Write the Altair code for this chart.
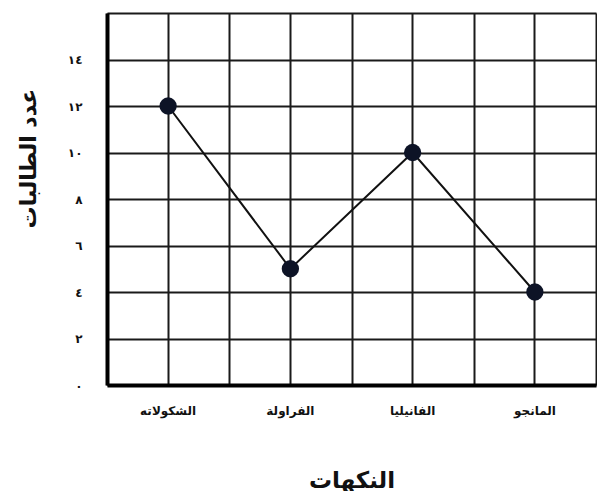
import altair as alt
import pandas as pd

flavors = ["الشكولاته", "الفراولة", "الفانيليا", "المانجو"]
counts = [12, 5, 10, 4]
y_ticks = [0, 2, 4, 6, 8, 10, 12, 14, 16]
y_tick_labels = ["٠", "٢", "٤", "٦", "٨", "١٠", "١٢", "١٤", ""]
x_title = "النكهات"
y_title = "عدد الطالبات"

df = pd.DataFrame({"flavor": flavors, "count": counts})

FONT = "DejaVu Sans"
label_expr = (
    "[" + ",".join(f"'{s}'" for s in y_tick_labels) + "]"
    + "[indexof([" + ",".join(str(v) for v in y_ticks) + "], datum.value)]"
)

x_scale = alt.Scale(type="band", paddingInner=0, paddingOuter=0)
y_scale = alt.Scale(domain=[0, 16], nice=False)

y_enc = alt.Y(
    "count:Q",
    scale=y_scale,
    axis=alt.Axis(
        values=y_ticks,
        labelExpr=label_expr,
        ticks=False,
        labelPadding=25,
        labelFont=FONT,
        labelFontSize=12,
        labelFontWeight="bold",
        labelColor="#111",
        grid=True,
        gridColor="#1a1a1a",
        gridWidth=2,
        gridOpacity=1,
        domain=True,
        domainColor="#000",
        domainWidth=4,
        title=y_title,
        titleFont=FONT,
        titleFontSize=22,
        titleFontWeight="bold",
        titleColor="#111",
        titleAngle=-90,
        titleX=-79,
        titleY=145,
        titleBaseline="middle",
        titleAlign="center",
    ),
)

line = alt.Chart(df).mark_line(color="#111", strokeWidth=2).encode(
    x=alt.X(
        "flavor:N",
        sort=flavors,
        scale=x_scale,
        axis=alt.Axis(
            orient="bottom",
            labelAngle=0,
            ticks=False,
            labelPadding=20,
            labelFont=FONT,
            labelFontSize=12,
            labelFontWeight="bold",
            labelColor="#111",
            grid=True,
            gridColor="#1a1a1a",
            gridWidth=2,
            gridOpacity=1,
            domain=True,
            domainColor="#000",
            domainWidth=4,
            title=x_title,
            titleFont=FONT,
            titleFontSize=23,
            titleFontWeight="bold",
            titleColor="#111",
            titleY=95,
            titleBaseline="middle",
        ),
    ),
    y=y_enc,
)

points = alt.Chart(df).mark_circle(size=300, color="#0d1326", opacity=1).encode(
    x=alt.X(
        "flavor:N",
        sort=flavors,
        scale=x_scale,
        axis=alt.Axis(
            orient="top",
            tickBand="extent",
            labels=False,
            ticks=False,
            domain=False,
            grid=True,
            gridColor="#1a1a1a",
            gridWidth=2,
            gridOpacity=1,
            title=None,
        ),
    ),
    y=y_enc,
)

chart = (
    alt.layer(line, points)
    .resolve_scale(x="shared")
    .resolve_axis(x="independent")
    .properties(
        width=489,
        height=372,
        autosize=alt.AutoSizeParams(type="none"),
        padding={"left": 99, "top": 5, "right": 1, "bottom": 106},
        background="white",
    )
    .configure_view(stroke=None)
)

chart.save("out.html", embed_options={"renderer": "svg", "actions": False})
